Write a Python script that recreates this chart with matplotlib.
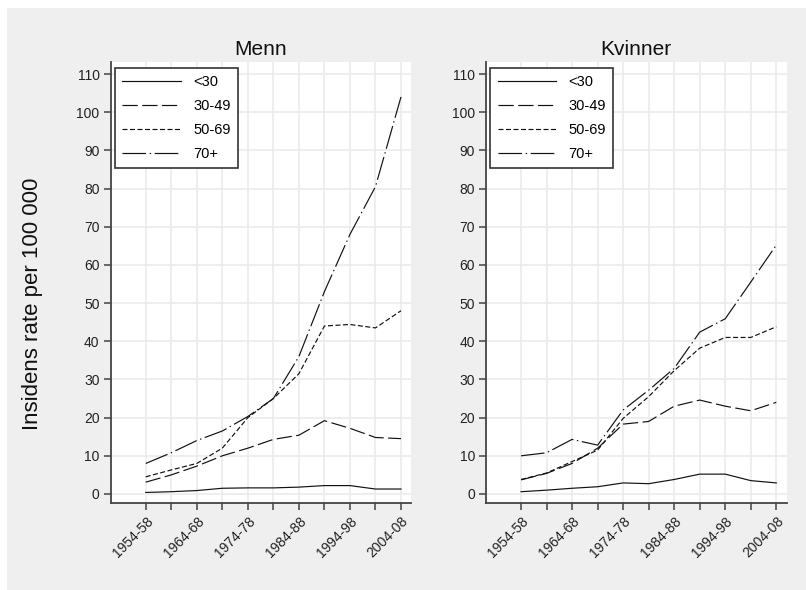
import matplotlib
matplotlib.use("Agg")
import matplotlib.pyplot as plt
from matplotlib.patches import Rectangle

plt.rcParams['font.family'] = ['Liberation Sans', 'DejaVu Sans']
plt.rcParams['lines.scale_dashes'] = False

periods = ["1954-58", "1959-63", "1964-68", "1969-73", "1974-78", "1979-83",
           "1984-88", "1989-93", "1994-98", "1999-03", "2004-08"]
age_groups = ["<30", "30-49", "50-69", "70+"]

menn_u30 = [0.4, 0.6, 0.9, 1.5, 1.6, 1.6, 1.8, 2.2, 2.2, 1.3, 1.3]
menn_30_49 = [3.1, 5.0, 7.3, 10.0, 12.0, 14.3, 15.4, 19.2, 17.2, 14.8, 14.5]
menn_50_69 = [4.5, 6.3, 8.0, 12.0, 20.0, 25.0, 31.5, 44.0, 44.4, 43.5, 48.0]
menn_70p = [8.0, 10.8, 14.0, 16.5, 20.3, 25.0, 36.0, 53.0, 68.0, 80.5, 104.0]

kvinner_u30 = [0.6, 1.0, 1.5, 1.9, 2.9, 2.7, 3.8, 5.2, 5.2, 3.5, 2.9]
kvinner_30_49 = [3.7, 5.4, 8.0, 12.0, 18.3, 19.0, 23.0, 24.6, 23.0, 21.8, 24.0]
kvinner_50_69 = [3.8, 5.5, 8.5, 11.5, 19.8, 25.5, 32.3, 38.2, 41.0, 41.0, 43.8]
kvinner_70p = [10.0, 10.8, 14.3, 12.8, 22.0, 27.2, 32.9, 42.4, 45.9, 55.5, 65.2]

panel_titles = ["Menn", "Kvinner"]
y_ticks = list(range(0, 111, 10))
ylabel = "Insidens rate per 100 000"

W, H = 806, 590
fig = plt.figure(figsize=(W / 100, H / 100), dpi=100)
fig.patch.set_facecolor("white")
fig.patches.append(Rectangle((7 / W, 0), 1 - 7 / W, 1 - 8 / H, transform=fig.transFigure,
                             facecolor="#efefef", edgecolor="none", zorder=-10))

styles = [
    dict(linestyle="solid"),
    dict(dashes=(11, 3.2)),
    dict(dashes=(3.6, 1.8)),
    dict(dashes=(17, 2.6, 1.0, 2.6)),
]

data = [
    [menn_u30, menn_30_49, menn_50_69, menn_70p],
    [kvinner_u30, kvinner_30_49, kvinner_50_69, kvinner_70p],
]

lefts_px = [110.7, 486]
top_px, bottom_px = 62, 503
width_px = 300.5
x = list(range(len(periods)))

for k in range(2):
    ax = fig.add_axes([lefts_px[k] / W, 1 - bottom_px / H, width_px / W, (bottom_px - top_px) / H])
    ax.set_facecolor("white")
    for series, lab, st in zip(data[k], age_groups, styles):
        ax.plot(x, series, color="#111111", lw=0.85, label=lab, **st)
    ax.set_xlim(-1.373, 10.40)
    ax.set_ylim(-2.36, 113.15)
    ax.set_yticks(y_ticks)
    ax.set_yticklabels([str(v) for v in y_ticks], fontsize=10, color="#222222")
    ax.set_xticks(x)
    ax.set_xticklabels([p if i % 2 == 0 else "" for i, p in enumerate(periods)],
                       rotation=45, ha="right", va="top", rotation_mode="anchor",
                       fontsize=10, color="#222222")
    ax.tick_params(axis="both", direction="out", length=5, width=1.1, color="#444444", pad=3)
    ax.grid(True, color="#ebebeb", lw=1.2)
    ax.set_axisbelow(True)
    for s in ["top", "right"]:
        ax.spines[s].set_visible(False)
    for s in ["left", "bottom"]:
        ax.spines[s].set_color("#444444")
        ax.spines[s].set_linewidth(1.3)
    ax.set_title(panel_titles[k], fontsize=15, color="#111111", pad=5)
    leg = ax.legend(loc="upper left", bbox_to_anchor=(4.3 / width_px, 1 - 6 / (bottom_px - top_px)),
                    borderaxespad=0, fontsize=10.5, handlelength=4.0, handletextpad=0.85,
                    labelspacing=0.68, borderpad=0.5, fancybox=False, framealpha=1)
    leg.get_frame().set_edgecolor("#333333")
    leg.get_frame().set_linewidth(1.2)

fig.text(33 / W, 1 - 304 / H, ylabel, rotation=90, ha="center", va="center", fontsize=16, color="#111111")

fig.savefig("out.png", dpi=100, facecolor=fig.get_facecolor())
